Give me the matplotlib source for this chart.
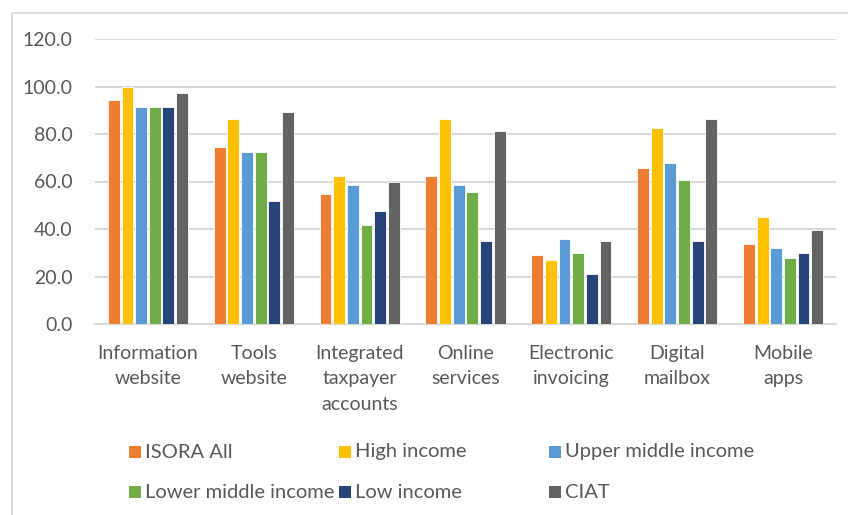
import numpy as np
import matplotlib.pyplot as plt
from matplotlib.patches import Rectangle

categories = [
    'Information\nwebsite',
    'Tools\nwebsite',
    'Integrated\ntaxpayer\naccounts',
    'Online\nservices',
    'Electronic\ninvoicing',
    'Digital\nmailbox',
    'Mobile\napps',
]

series_names = ['ISORA All', 'High income', 'Upper middle income',
                'Lower middle income', 'Low income', 'CIAT']

isora_all = [94.3, 74.5, 54.7, 62.5, 29.0, 65.6, 33.8]
high_income = [100.0, 86.3, 62.5, 86.3, 26.9, 82.4, 44.9]
upper_middle = [91.3, 72.6, 58.6, 58.6, 35.8, 67.6, 31.9]
lower_middle = [91.3, 72.6, 41.8, 55.7, 29.9, 60.7, 28.0]
low_income = [91.3, 51.7, 47.7, 34.8, 21.0, 34.8, 29.9]
ciat = [97.2, 89.4, 59.6, 81.4, 34.8, 86.3, 39.7]

colors = ['#ED7D31', '#FFC000', '#5B9BD5', '#70AD47', '#264478', '#636363']
text_color = '#595959'
grid_color = '#D9D9D9'

plt.rcParams['font.family'] = ['Lato', 'DejaVu Sans']

W, H = 848, 515
fig = plt.figure(figsize=(W / 100, H / 100), dpi=100)
ax = fig.add_axes([95 / W, 1 - 324 / H, 741 / W, 285 / H])

values = [isora_all, high_income, upper_middle, lower_middle, low_income, ciat]
x = np.arange(len(categories))
slot = 0.129
width = 0.112
for i, (name, vals) in enumerate(zip(series_names, values)):
    offset = (i - 2.5) * slot
    ax.bar(x + offset, vals, width=width, color=colors[i],
           edgecolor='white', linewidth=0.6, label=name, zorder=3)

ax.set_xlim(-0.5, len(categories) - 0.5)
ax.set_ylim(0, 120)
ax.set_yticks(np.arange(0, 121, 20))
ax.set_yticklabels([f'{v:.1f}' for v in np.arange(0, 121, 20)])
ax.set_xticks(x)
ax.set_xticklabels(categories, linespacing=1.6, va='top')

ax.grid(axis='y', color=grid_color, linewidth=1.5, zorder=0)
for side in ['top', 'right', 'left']:
    ax.spines[side].set_visible(False)
ax.spines['bottom'].set_color(grid_color)
ax.spines['bottom'].set_linewidth(1.5)
ax.tick_params(axis='both', length=0, labelsize=14, colors=text_color)
ax.tick_params(axis='x', pad=15)
ax.tick_params(axis='y', pad=16)

# legend laid out as a fixed 3-column grid
for i, name in enumerate(series_names):
    col, row = i % 3, i // 3
    lx = 129 + col * 210
    ly = 452 + row * 40
    fig.patches.append(Rectangle((lx / W, 1 - (ly + 6) / H), 12 / W, 12 / H,
                                 transform=fig.transFigure,
                                 facecolor=colors[i], edgecolor='none'))
    fig.text((lx + 16) / W, 1 - ly / H, name, fontsize=14.5,
             color=text_color, va='center', ha='left')

# chart border
fig.patches.append(Rectangle((12 / W, -0.05), 1.0, 1 - 13 / H + 0.05,
                             transform=fig.transFigure, facecolor='none',
                             edgecolor=grid_color, linewidth=1.2))

fig.savefig('out.png', dpi=100)
